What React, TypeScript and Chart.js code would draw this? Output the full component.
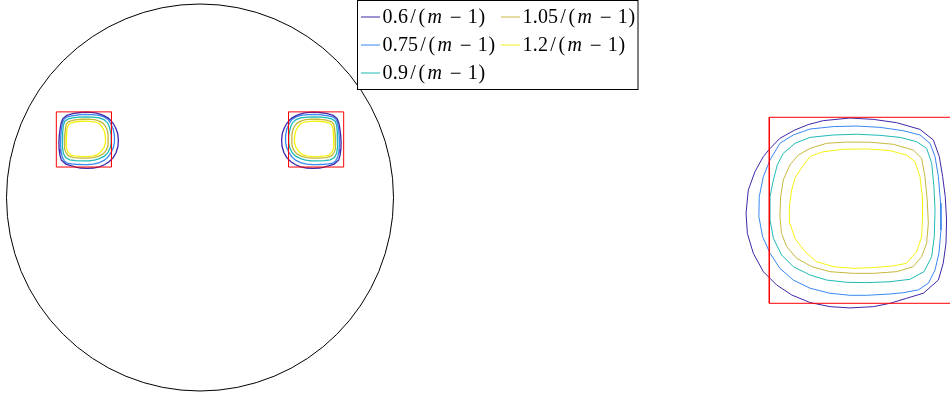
import React, { useEffect, useRef } from 'react';
import { Chart, registerables } from 'chart.js';

Chart.register(...registerables);

// Contour levels and colours (legend)
const levelLabels = ['0.6', '0.75', '0.9', '1.05', '1.2'];
const levelColors = ['#3e26a8', '#3a86f0', '#1fbab5', '#c4b83e', '#f5f212'];

// Contours in the local coordinates of the (right) square, square = [0,1] x [0,1]
const c06x = [-0.125, -0.113, -0.077, -0.032, 0.0, 0.057, 0.138, 0.21, 0.29, 0.434, 0.559, 0.685, 0.81, 0.882, 0.914, 0.932, 0.946, 0.953, 0.95, 0.935, 0.909, 0.828, 0.738, 0.649, 0.559, 0.434, 0.326, 0.219, 0.12, 0.039, -0.032, -0.086, -0.118, -0.125];
const c06y = [0.484, 0.609, 0.708, 0.789, 0.828, 0.887, 0.932, 0.961, 0.982, 0.996, 0.989, 0.971, 0.935, 0.878, 0.789, 0.681, 0.573, 0.448, 0.323, 0.215, 0.125, 0.054, 0.027, 0.0, -0.018, -0.025, -0.018, 0.004, 0.045, 0.099, 0.17, 0.269, 0.376, 0.484];

const c075x = [-0.056, -0.054, -0.032, 0.004, 0.057, 0.129, 0.219, 0.344, 0.47, 0.595, 0.72, 0.81, 0.864, 0.891, 0.909, 0.921, 0.923, 0.912, 0.891, 0.855, 0.801, 0.72, 0.649, 0.523, 0.434, 0.326, 0.219, 0.129, 0.057, 0.004, -0.036, -0.056];
const c075y = [0.466, 0.573, 0.681, 0.771, 0.86, 0.905, 0.937, 0.95, 0.953, 0.946, 0.928, 0.905, 0.86, 0.789, 0.681, 0.538, 0.394, 0.269, 0.179, 0.108, 0.072, 0.057, 0.05, 0.043, 0.043, 0.054, 0.081, 0.125, 0.188, 0.269, 0.358, 0.466];

const c09x = [0.004, 0.004, 0.022, 0.043, 0.075, 0.138, 0.219, 0.344, 0.47, 0.595, 0.703, 0.792, 0.846, 0.873, 0.885, 0.891, 0.887, 0.873, 0.832, 0.756, 0.649, 0.523, 0.416, 0.308, 0.219, 0.129, 0.066, 0.022, 0.004];
const c09y = [0.448, 0.573, 0.663, 0.744, 0.806, 0.86, 0.892, 0.905, 0.909, 0.903, 0.892, 0.869, 0.833, 0.753, 0.627, 0.502, 0.358, 0.251, 0.17, 0.129, 0.116, 0.111, 0.113, 0.125, 0.152, 0.197, 0.26, 0.349, 0.448];

const c105x = [0.057, 0.061, 0.075, 0.111, 0.156, 0.219, 0.308, 0.416, 0.541, 0.667, 0.774, 0.819, 0.837, 0.849, 0.855, 0.846, 0.819, 0.774, 0.685, 0.559, 0.452, 0.326, 0.228, 0.147, 0.093, 0.066, 0.057];
const c105y = [0.466, 0.573, 0.663, 0.744, 0.797, 0.833, 0.86, 0.867, 0.866, 0.855, 0.824, 0.78, 0.681, 0.556, 0.43, 0.323, 0.251, 0.197, 0.17, 0.161, 0.161, 0.17, 0.197, 0.242, 0.305, 0.376, 0.466];

const c12x = [0.108, 0.12, 0.138, 0.165, 0.219, 0.29, 0.398, 0.523, 0.649, 0.738, 0.783, 0.81, 0.823, 0.824, 0.819, 0.792, 0.738, 0.667, 0.559, 0.452, 0.344, 0.254, 0.192, 0.138, 0.111, 0.108];
const c12y = [0.52, 0.609, 0.672, 0.717, 0.789, 0.815, 0.828, 0.83, 0.821, 0.797, 0.762, 0.681, 0.573, 0.466, 0.358, 0.278, 0.215, 0.201, 0.192, 0.188, 0.197, 0.224, 0.278, 0.349, 0.43, 0.52];

const contourXs = [c06x, c075x, c09x, c105x, c12x];
const contourYs = [c06y, c075y, c09y, c105y, c12y];

// Geometry of the domain
const circleCenter = [0, 0];
const circleRadius = 1;
const squareSide = 0.285;
const squareCentersX = [-0.6, 0.6];
const squareCentersY = [0.3, 0.3];
const squareOutlineU = [0, 1, 1, 0, 0];
const squareOutlineV = [0, 0, 1, 1, 0];

type P = { x: number; y: number };

function mapSquare(us: number[], vs: number[], idx: number): P[] {
  const cx = squareCentersX[idx];
  const cy = squareCentersY[idx];
  const mirror = idx === 0;
  return us.map((u, i) => ({
    x: mirror ? cx + squareSide / 2 - u * squareSide : cx - squareSide / 2 + u * squareSide,
    y: cy - squareSide / 2 + vs[i] * squareSide,
  }));
}

function localPts(us: number[], vs: number[]): P[] {
  return us.map((u, i) => ({ x: u, y: vs[i] }));
}

const lineDs = (data: P[], color: string, label = '', width = 1) => ({
  label,
  data,
  showLine: true,
  borderColor: color,
  backgroundColor: color,
  borderWidth: width,
  pointRadius: 0,
  tension: 0,
  fill: false,
});

const circlePlugin = {
  id: 'circle',
  beforeDatasetsDraw(chart: any) {
    const { ctx, scales } = chart;
    const x = scales.x.getPixelForValue(circleCenter[0]);
    const y = scales.y.getPixelForValue(circleCenter[1]);
    const r = scales.x.getPixelForValue(circleCenter[0] + circleRadius) - x;
    ctx.save();
    ctx.beginPath();
    ctx.arc(x, y, r, 0, Math.PI * 2);
    ctx.strokeStyle = '#000';
    ctx.lineWidth = 1;
    ctx.stroke();
    ctx.restore();
  },
};

// advance widths (em) in the style of TeX math typesetting
const glyphAdvance: Record<string, number> = {
  '0': 0.5, '1': 0.5, '2': 0.5, '5': 0.5, '6': 0.5, '7': 0.5, '9': 0.5,
  '.': 0.278, '/': 0.5, '(': 0.389, ')': 0.389, m: 0.878, ' ': 0.222, '\u2212': 0.778,
};

const legendPlugin = {
  id: 'mathLegend',
  afterDraw(chart: any) {
    const { ctx } = chart;
    const bx = 357.5, by = 0.5, bw = 280.5, bh = 89;
    ctx.save();
    ctx.fillStyle = '#fff';
    ctx.fillRect(bx, by, bw, bh);
    ctx.strokeStyle = '#000';
    ctx.lineWidth = 1;
    ctx.strokeRect(bx, by, bw, bh);
    const colX = [361, 501];
    const rowY = [17, 45, 73];
    const size = 20;
    const family = '"Liberation Serif", "DejaVu Serif", serif';
    levelLabels.forEach((lab, i) => {
      const col = i < 3 ? 0 : 1;
      const row = i < 3 ? i : i - 3;
      const x0 = colX[col];
      const y0 = rowY[row];
      ctx.strokeStyle = levelColors[i];
      ctx.lineWidth = 1;
      ctx.beginPath();
      ctx.moveTo(x0, y0);
      ctx.lineTo(x0 + 19, y0);
      ctx.stroke();
      ctx.fillStyle = '#000';
      ctx.textBaseline = 'middle';
      let tx = x0 + 21.5;
      const text = lab + '/(m \u2212 1)';
      for (const ch of text) {
        const adv = (glyphAdvance[ch] ?? 0.5) * size;
        if (ch !== ' ') {
          const italic = ch === 'm';
          ctx.font = `${italic ? 'italic ' : ''}${ch === '\u2212' ? size * 1.05 : size}px ${family}`;
          const w = ctx.measureText(ch).width;
          ctx.fillText(ch, tx + (adv - w) / 2, y0 + 1);
        }
        tx += adv;
      }
    });
    ctx.restore();
  },
};

function baseOptions(xmin: number, xmax: number, ymin: number, ymax: number) {
  return {
    responsive: false,
    maintainAspectRatio: false,
    animation: false as const,
    devicePixelRatio: 1,
    layout: { padding: 0 },
    events: [] as any[],
    plugins: { legend: { display: false }, tooltip: { enabled: false } },
    scales: {
      x: { type: 'linear' as const, display: false, min: xmin, max: xmax },
      y: { type: 'linear' as const, display: false, min: ymin, max: ymax },
    },
  };
}

const LEFT_W = 640;
const RIGHT_W = 310;
const H = 396;

export default function App() {
  const leftRef = useRef<HTMLCanvasElement>(null);
  const rightRef = useRef<HTMLCanvasElement>(null);

  useEffect(() => {
    document.body.style.margin = '0';
    const leftDatasets: any[] = [];
    [0, 1].forEach((sq) => {
      leftDatasets.push(lineDs(mapSquare(squareOutlineU, squareOutlineV, sq), '#ff0000'));
      contourXs.forEach((xs, i) => {
        leftDatasets.push(lineDs(mapSquare(xs, contourYs[i], sq), levelColors[i], levelLabels[i], 1.3));
      });
    });
    const scaleL = 193.5; // px per unit
    const cxPx = 200, cyPx = 197.5;
    const left = new Chart(leftRef.current!, {
      type: 'scatter',
      data: { datasets: leftDatasets },
      options: baseOptions(-cxPx / scaleL, (LEFT_W - cxPx) / scaleL, -(H - cyPx) / scaleL, cyPx / scaleL) as any,
      plugins: [circlePlugin, legendPlugin],
    });

    const rightDatasets: any[] = [lineDs(localPts(squareOutlineU, squareOutlineV), '#ff0000')];
    contourXs.forEach((xs, i) => {
      rightDatasets.push(lineDs(localPts(xs, contourYs[i]), levelColors[i], levelLabels[i]));
    });
    const scaleR = 186;
    const sx0 = 769.3 - LEFT_W, sy0 = 303.3;
    const right = new Chart(rightRef.current!, {
      type: 'scatter',
      data: { datasets: rightDatasets },
      options: baseOptions(-sx0 / scaleR, (RIGHT_W - sx0) / scaleR, -(H - sy0) / scaleR, sy0 / scaleR) as any,
    });
    return () => {
      left.destroy();
      right.destroy();
    };
  }, []);

  return (
    <div style={{ position: 'absolute', left: 0, top: 0, width: 950, height: H, background: '#fff' }}>
      <canvas ref={leftRef} width={LEFT_W} height={H} style={{ position: 'absolute', left: 0, top: 0, width: LEFT_W, height: H }} />
      <canvas ref={rightRef} width={RIGHT_W} height={H} style={{ position: 'absolute', left: LEFT_W, top: 0, width: RIGHT_W, height: H }} />
    </div>
  );
}
